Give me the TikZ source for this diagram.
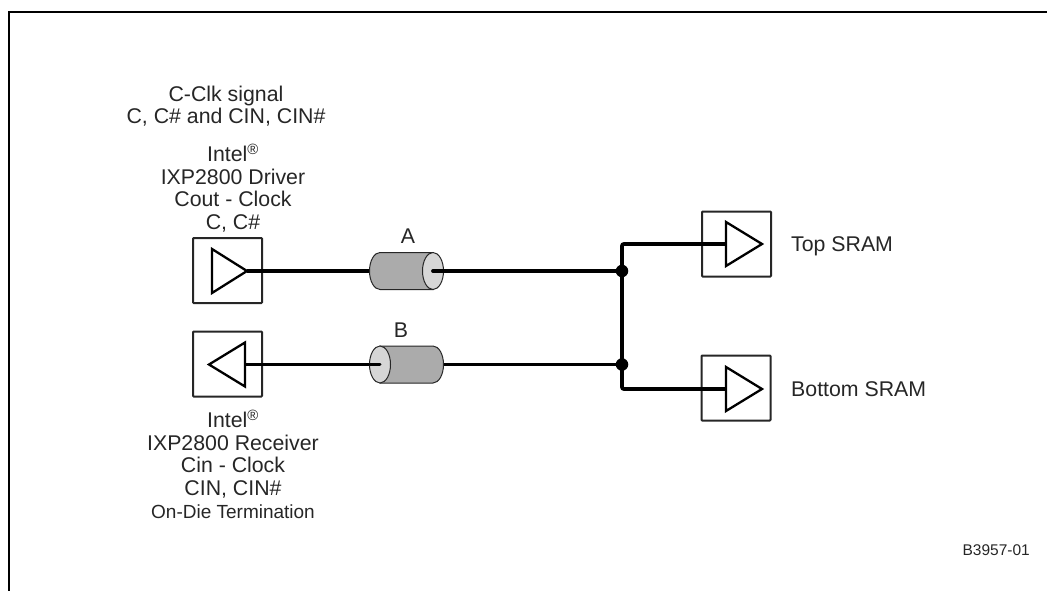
\documentclass[tikz,border=0pt]{standalone}
\usepackage{fontspec}
\setmainfont{Liberation Sans}
\usetikzlibrary{positioning,calc}

\begin{document}
\begin{tikzpicture}[
    x=1pt,y=-1pt,
    every node/.style={inner sep=0pt,font=\fontsize{21.3}{22.5}\selectfont,text=black!85},
    smalltext/.style={font=\fontsize{19}{22.5}\selectfont},
    idtext/.style={font=\fontsize{15.5}{18}\selectfont},
    bufbox/.style={draw=black!85,line width=2pt,rounded corners=0.8pt,minimum width=69pt,minimum height=65pt},
    buftri/.style={draw=black,line width=2.3pt,line join=miter,fill=white},
    wire/.style={draw=black,line width=3.8pt},
    thinwire/.style={draw=black,line width=3pt},
    cylbody/.style={draw=black!85,line width=1pt,fill=black!33},
    cylface/.style={draw=black!85,line width=1pt,fill=black!16},
    junction/.style={circle,fill=black,minimum size=12.5pt}
]
\useasboundingbox (0,0) rectangle (1047,591);

% Marco
\draw[black,line width=2.6pt] (9,591) -- (9,12) -- (1047,12);

% Cajas de los buffers
\node[bufbox] (driver) at (227.5,270.5) {};
\node[bufbox] (receiver) at (227.5,364) {};
\node[bufbox] (topbuf) at (736.5,244) {};
\node[bufbox] (botbuf) at (736,388) {};

% Puntos de cada triangulo
\coordinate (drvtip) at (247,271);
\coordinate (rcvback) at (245,364.5);
\coordinate (topback) at (725,244);
\coordinate (botback) at (725,389);

% Cables
\coordinate (capos) at (433,271);
\coordinate (cbpos) at (380,364.5);
\node[junction] (ja) at (622,271) {};
\node[junction] (jb) at (622,364.5) {};
\coordinate (corner1) at (622,244);
\coordinate (corner2) at (622,389);

\draw[wire] (drvtip) -- (capos);
\draw[thinwire] (rcvback) -- (cbpos);
\draw[wire] (cbpos) -- (jb);

% Cilindro A
\draw[cylbody] (capos) ++(0,-18.5) -- ++(-53,0) arc[start angle=270,end angle=90,x radius=10.5,y radius=18.5] -- ++(53,0) -- cycle;
\draw[cylface] (capos) ellipse[x radius=10.5,y radius=18.5];

% Cilindro B
\draw[cylbody] (cbpos) ++(0,-18.5) -- ++(53,0) arc[start angle=-90,end angle=90,x radius=10.5,y radius=18.5] -- ++(-53,0) -- cycle;
\draw[cylface] (cbpos) ellipse[x radius=10.5,y radius=18.5];

\draw[wire,line cap=round] (capos) -- (ja);
\draw[thinwire,line cap=round] (370,364.5) -- (cbpos);
\draw[wire,rounded corners=2pt] (topback) -- (corner1) -- (corner2) -- (botback);

% Triangulos
\draw[buftri] (drvtip) -- ++(-35,-22) -- ++(0,44) -- cycle;
\draw[buftri] (rcvback) -- ++(0,-22) -- ++(-36,22) -- ++(36,22) -- cycle;
\draw[buftri] (topback) ++(1,-22) -- ++(36,22) -- ++(-36,22) -- cycle;
\draw[buftri] (botback) ++(1,-22) -- ++(36,22) -- ++(-36,22) -- cycle;

% Textos
\node[align=center] (signal) at (226,106) {C-Clk signal\\C, C\# and CIN, CIN\#};
\node[align=center,above=5pt of driver,xshift=5.5pt] (drvtext) {Intel\textsuperscript{®}\\IXP2800 Driver\\Cout - Clock\\C, C\#};
\node[align=center,below=12pt of receiver,xshift=5.5pt] (rcvtext) {Intel\textsuperscript{®}\\IXP2800 Receiver\\Cin - Clock\\CIN, CIN\#};
\node[smalltext,below=6pt of rcvtext] (odt) {On-Die Termination};
\node[anchor=base] (lbla) at (408,243) {A};
\node[anchor=base] (lblb) at (401,337) {B};
\node[anchor=base west] (toplbl) at (791,251) {Top SRAM};
\node[anchor=base west] (botlbl) at (791,396) {Bottom SRAM};
\node[idtext,anchor=base east] (figid) at (1030,555) {B3957-01};
\end{tikzpicture}
\end{document}
